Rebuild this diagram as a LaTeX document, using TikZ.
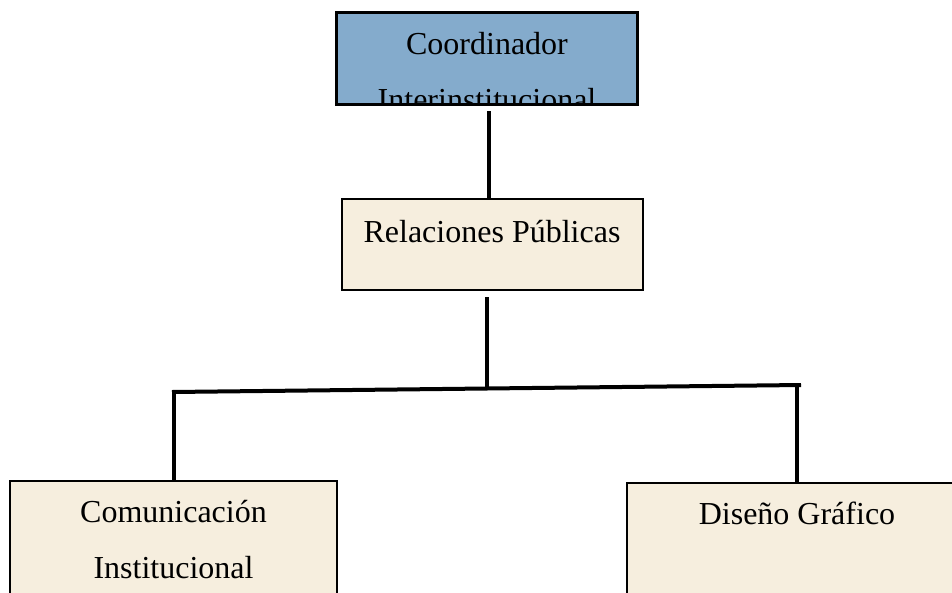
\documentclass[tikz,border=0pt]{standalone}
\usepackage{fontspec}
\setmainfont{Liberation Serif}
\definecolor{headblue}{RGB}{132,171,204}
\definecolor{boxcream}{RGB}{246,238,222}
\def\boxfont{\fontsize{32}{56}\selectfont}

\begin{document}
\begin{tikzpicture}[x=1pt,y=-1pt]
    \tikzstyle{unit}=[rectangle,draw=black,line width=2pt,inner sep=0pt]
    \tikzstyle{unittext}=[font=\boxfont,align=center,anchor=base,inner sep=0pt]
    \tikzstyle{link}=[draw=black,line width=4pt]

    \useasboundingbox (0,0) rectangle (952,592);
    \clip (0,0) rectangle (952,592);

    \node[unit,fill=headblue,minimum width=300pt,minimum height=91pt] (coord) at (487,58.5) {};
    \node[unit,fill=boxcream,minimum width=301pt,minimum height=91pt] (relpub) at (492,244.5) {};
    \node[unit,fill=boxcream,minimum width=327pt,minimum height=180pt] (comu) at (173.5,571) {};
    \node[unit,fill=boxcream,minimum width=340pt,minimum height=180pt] (diseno) at (797,573) {};

    % the second line of the top box is cut off by its frame
    \begin{scope}
        \clip (coord.north west) rectangle (coord.south east);
        \node[unittext] (coordtext) at (487,110) {Coordinador\\Interinstitucional};
    \end{scope}
    \draw[line width=2pt] (coord.north west) rectangle (coord.south east);

    \node[unittext] (relpubtext) at (492,242) {Relaciones Públicas};
    \node[unittext] (comutext) at (173.5,578.5) {Comunicación\\Institucional};
    \node[unittext] (disenotext) at (797,524) {Diseño Gráfico};

    \coordinate (junction) at (487,387);
    \coordinate (barleft) at (172,392);
    \coordinate (barright) at (801,385);

    \draw[link] ([xshift=2pt,yshift=-6pt]coord.south) -- ([xshift=-3pt]relpub.north);
    \draw[link] ([xshift=-5pt,yshift=-6pt]relpub.south) -- (junction);
    \draw[link] (barleft) -- (barright);
    \draw[link] (comu.north |- barleft) -- (comu.north);
    \draw[link] (diseno.north |- barright) -- (diseno.north);
\end{tikzpicture}
\end{document}
